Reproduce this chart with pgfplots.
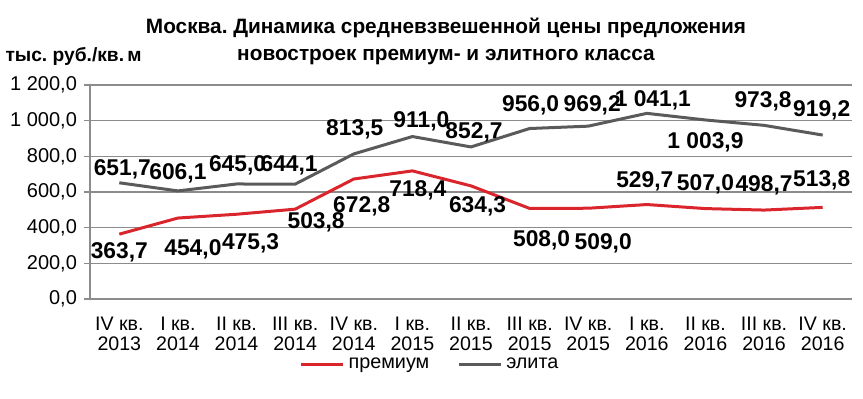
\documentclass[border=0pt]{standalone}
\usepackage{fontspec}
\setmainfont{Liberation Sans}
\usepackage{pgfplots}
\usepackage{pgfplotstable}
\pgfplotsset{compat=1.18}
\frenchspacing
\definecolor{premred}{RGB}{218,37,45}
\definecolor{elgray}{RGB}{90,90,90}
\definecolor{gridgray}{RGB}{140,140,140}
\pgfplotstableread[col sep=semicolon]{
x;y;lab;dx;dy
0;651.7;651,7;1.5;6.5
1;606.1;606,1;0;9
2;645.0;645,0;0.5;9.5
3;644.1;644,1;-3;9.5
4;813.5;813,5;0.5;12.5
5;911.0;911,0;4.5;7.5
6;852.7;852,7;1.5;7.3
7;956.0;956,0;0.5;11.5
8;969.2;969,2;2;10.5
9;1041.1;1~041,1;3;6.5
10;1003.9;1~003,9;0;-11
11;973.8;973,8;-0.5;12
12;919.2;919,2;-0.5;12.5
}\elita
\pgfplotstableread[col sep=semicolon]{
x;y;lab;dx;dy
0;363.7;363,7;0;-9
1;454.0;454,0;7.5;-15.5
2;475.3;475,3;7;-14.5
3;503.8;503,8;10.5;-6.75
4;672.8;672,8;4;-13.8
5;718.4;718,4;2.75;-9.5
6;634.3;634,3;3.3;-10.4
7;508.0;508,0;6;-16
8;509.0;509,0;7.5;-17.5
9;529.7;529,7;-1;11.5
10;507.0;507,0;0;12
11;498.7;498,7;0;12.5
12;513.8;513,8;-0.5;13.5
}\prem
\begin{document}
\frenchspacing
\begin{tikzpicture}
\path[use as bounding box] (-45pt,-49.5pt) rectangle (386.5pt,149.5pt);
\begin{axis}[
  scale only axis,
  width=381pt, height=107pt,
  xmin=-0.5, xmax=12.5,
  ymin=0, ymax=1200,
  clip=false,
  axis x line*=bottom,
  axis y line*=left,
  axis line style={gridgray, line width=0.6pt},
  xtick={0,...,12},
  xticklabels={{IV кв.\\2013},{I кв.\\2014},{II кв.\\2014},{III кв.\\2014},{IV кв.\\2014},{I кв.\\2015},{II кв.\\2015},{III кв.\\2015},{IV кв.\\2015},{I кв.\\2016},{II кв.\\2016},{III кв.\\2016},{IV кв.\\2016}},
  major x tick style={draw=none},
  extra x ticks={-0.5,0.5,...,12.5},
  extra x tick labels={},
  extra x tick style={major tick length=5pt, tick align=outside, tick style={gridgray, line width=0.6pt}, grid=none},
  xticklabel style={align=center, font=\fontsize{9.8}{10}\selectfont, yshift=-2.5pt},
  ytick={0,200,...,1200},
  yticklabels={{0,0},{200,0},{400,0},{600,0},{800,0},{1 000,0},{1 200,0}},
  yticklabel style={font=\fontsize{10}{11}\selectfont},
  ymajorgrids,
  grid style={gridgray, line width=0.6pt},
  major y tick style={gridgray, line width=0.6pt},
  tick align=outside,
  major tick length=3pt,
  legend columns=2,
  legend style={at={(0.4475,-0.308)}, anchor=center, draw=none, fill=none,
    font=\fontsize{9.9}{10}\selectfont, /tikz/every even column/.append style={column sep=12pt}},
  legend image code/.code={\draw[#1, line width=1.5pt] (0pt,0pt) -- (21pt,0pt);},
  nodes near coords,
  point meta=explicit symbolic,
  visualization depends on={\thisrow{dx}\as\dx},
  visualization depends on={\thisrow{dy}\as\dy},
  every node near coord/.append style={anchor=center, xshift=\dx pt, yshift=\dy pt, font=\fontsize{11.4}{12}\selectfont\bfseries, text=black, inner sep=0pt},
]
\addplot[premred, line width=1.5pt, mark=none] table[x=x, y=y, meta=lab] {\prem};
\addlegendentry{премиум}
\addplot[elgray, line width=1.5pt, mark=none] table[x=x, y=y, meta=lab] {\elita};
\addlegendentry{элита}
\end{axis}
\node[font=\fontsize{10.4}{13.5}\selectfont\bfseries, align=center] at (178pt,129pt) {Москва. Динамика средневзвешенной цены предложения\\новостроек премиум- и элитного класса};
\node[font=\fontsize{9.6}{10}\selectfont\bfseries] at (-8.25pt,121.5pt) {тыс. руб./кв.\,м};
\end{tikzpicture}
\end{document}
